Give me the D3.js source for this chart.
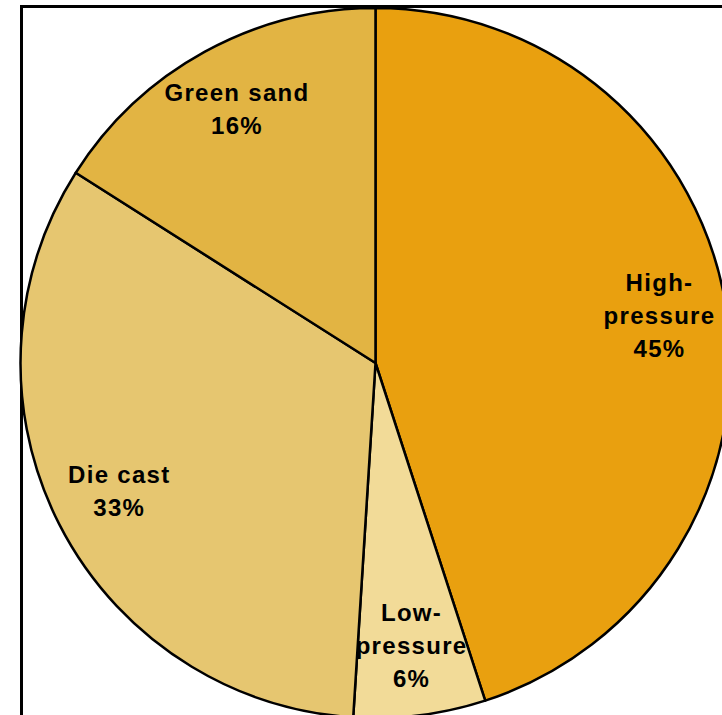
<!DOCTYPE html>
<html>
<head>
<meta charset="utf-8">
<script src="https://cdn.jsdelivr.net/npm/d3@7"></script>
<style>
  body { margin: 0; background: #fff; }
  svg { display: block; }
</style>
</head>
<body>
<div id="chart"></div>
<script>
// slice data, clockwise from 12 o'clock
let categories = ["High-pressure", "Low-pressure", "Die cast", "Green sand"]
let shares = [45, 6, 33, 16]
let labelLines = [["High-", "pressure"], ["Low-", "pressure"], ["Die cast"], ["Green sand"]]
let sliceColors = ["#E9A00F", "#F2DB98", "#E6C670", "#E2B443"]

let width = 722, height = 715
let cx = 375.5, cy = 363, radius = 355

let svg = d3.select("#chart")
    .append("svg")
        .attr("width", width)
        .attr("height", height)

//plot area frame, runs off the right and bottom edges
svg.append("rect")
    .attr("x", 21.5)
    .attr("y", 6.5)
    .attr("width", 900)
    .attr("height", 900)
    .attr("fill", "none")
    .attr("stroke", "#000")
    .attr("stroke-width", 3)

let g = svg.append("g")
    .attr("transform", `translate(${cx}, ${cy})`)

let color = d3.scaleOrdinal()
    .domain(categories)
    .range(sliceColors)

let pie = d3.pie()
    .sort(null)
    .value(function(d) { return d.value; })

let data = categories.map(function(c, i) {
    return { key: c, value: shares[i], lines: labelLines[i] }
})

let arcs = pie(data)

let arc = d3.arc().innerRadius(0).outerRadius(radius)
let labelArc = d3.arc().innerRadius(radius * 0.81).outerRadius(radius * 0.81)

g.selectAll("path")
    .data(arcs)
    .enter()
    .append("path")
    .attr("d", arc)
    .attr("fill", function(d) { return color(d.data.key) })
    .attr("stroke", "#000")
    .style("stroke-width", "2.5px")
    .style("stroke-linejoin", "round")

//labels: name lines + percent, centred on the label arc
let lineH = 33
let labels = g.selectAll("text.lbl")
    .data(arcs)
    .enter()
    .append("text")
    .attr("class", "lbl")
    .attr("transform", function(d) { return `translate(${labelArc.centroid(d)})` })
    .style("text-anchor", "middle")
    .style("font-family", "Liberation Sans, Arial, sans-serif")
    .style("font-weight", "bold")
    .style("font-size", "24px")
    .style("letter-spacing", "1.3px")
    .attr("fill", "#000")

labels.each(function(d) {
    let lines = d.data.lines.concat([d.data.value + "%"])
    let top = -(lines.length - 1) * lineH / 2 + 6
    let t = d3.select(this)
    lines.forEach(function(l, i) {
        t.append("tspan")
            .attr("x", 0)
            .attr("y", top + i * lineH)
            .text(l)
    })
})
</script>
</body>
</html>
